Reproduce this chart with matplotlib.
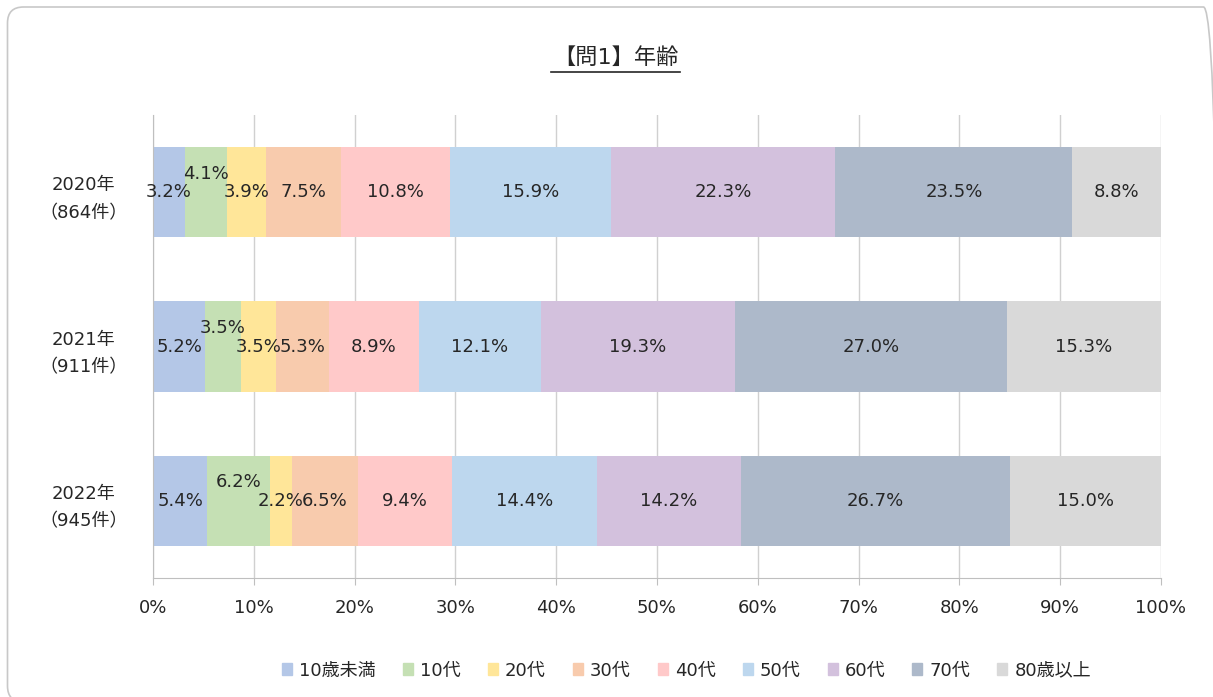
import numpy as np
import matplotlib.pyplot as plt
from matplotlib.patches import FancyBboxPatch
from matplotlib.lines import Line2D

plt.rcParams['font.family'] = ['DejaVu Sans', 'Noto Sans CJK JP']

# data
years = ['2020年\n（864件）', '2021年\n（911件）', '2022年\n（945件）']
groups = ['10歳未満', '10代', '20代', '30代', '40代', '50代', '60代', '70代', '80歳以上']
v2020 = [3.2, 4.1, 3.9, 7.5, 10.8, 15.9, 22.3, 23.5, 8.8]
v2021 = [5.2, 3.5, 3.5, 5.3, 8.9, 12.1, 19.3, 27.0, 15.3]
v2022 = [5.4, 6.2, 2.2, 6.5, 9.4, 14.4, 14.2, 26.7, 15.0]
colors = ['#B4C7E7', '#C5E0B4', '#FFE699', '#F8CBAD', '#FFC9C9',
          '#BDD7EE', '#D3C1DD', '#ADB9CA', '#D9D9D9']

values = np.array([v2020, v2021, v2022])
shares = values / values.sum(axis=1, keepdims=True)

# labels Excel pushed upward (row, segment)
raised = {(0, 1), (1, 1), (2, 1)}

fig = plt.figure(figsize=(12.13, 6.97), dpi=100)
ax = fig.add_axes([0.1261, 0.1707, 0.831, 0.6643])

ypos = np.arange(len(years))
left = np.zeros(len(years))
for j, g in enumerate(groups):
    ax.barh(ypos, shares[:, j], left=left, height=0.585, color=colors[j],
            label=g, zorder=2)
    for i in range(len(years)):
        x = left[i] + shares[i, j] / 2
        y = ypos[i] - (0.12 if (i, j) in raised else 0)
        ax.text(x, y, f'{values[i, j]:.1f}%', ha='center', va='center',
                fontsize=13, color='#262626', zorder=3)
    left += shares[:, j]

ax.set_xlim(0, 1)
ax.set_ylim(2.5, -0.5)
ax.set_xticks(np.linspace(0, 1, 11))
ax.set_xticklabels([f'{int(p)}%' for p in np.linspace(0, 100, 11)], fontsize=13,
                   color='#262626')
ax.set_yticks(ypos)
ax.set_yticklabels(years, fontsize=13, multialignment='center', linespacing=1.7,
                   color='#262626')
ax.tick_params(axis='y', length=0, pad=18)
ax.tick_params(axis='x', length=5, color='#BFBFBF', pad=10)
ax.grid(axis='x', color='#D0D0D0', linewidth=1, zorder=0)
for s in ['top', 'right']:
    ax.spines[s].set_visible(False)
for s in ['left', 'bottom']:
    ax.spines[s].set_color('#BFBFBF')

# title with underline
title = fig.text(0.508, 0.918, '【問1】年齢', ha='center', va='center',
                 fontsize=16, color='#262626')
fig.add_artist(Line2D([0.4545, 0.5605], [0.897, 0.897],
                      transform=fig.transFigure, color='#262626', linewidth=1.2))

# legend
handles = [plt.Rectangle((0, 0), 1, 1, color=c) for c in colors]
fig.legend(handles, groups, loc='center', bbox_to_anchor=(0.566, 0.038),
           ncol=9, frameon=False, fontsize=13, handlelength=0.55,
           handleheight=0.6, handletextpad=0.4, columnspacing=1.5,
           labelcolor='#262626')

# rounded border (inches), runs off the right and bottom edges
fig.add_artist(FancyBboxPatch((0.075, -0.05), 12.12, 6.95,
                              transform=fig.dpi_scale_trans,
                              boxstyle='round,pad=0,rounding_size=0.16',
                              fill=False, edgecolor='#C8C8C8', linewidth=1.2))

fig.savefig('out.png', dpi=100)
